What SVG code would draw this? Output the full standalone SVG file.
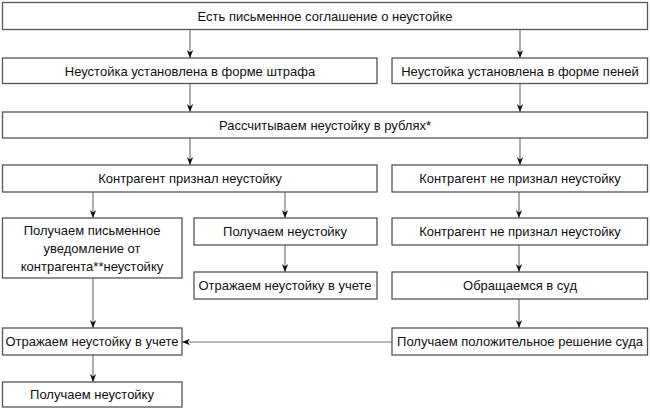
<svg xmlns="http://www.w3.org/2000/svg" width="650" height="411" viewBox="0 0 650 411">
<defs>
<style>
.b{fill:#fff;stroke:#555;stroke-width:1.3}
.t{font-family:"Liberation Sans",Arial,sans-serif;font-size:13px;fill:#111;text-anchor:middle;dominant-baseline:central}
.c{stroke:#777;stroke-width:1.2;fill:none;marker-end:url(#ah)}
</style>
<marker id="ah" viewBox="0 0 10 10" refX="10" refY="5" markerWidth="8" markerHeight="8" markerUnits="userSpaceOnUse" orient="auto">
<path d="M0,1 L10,5 L0,9 L3,5 Z" fill="#111"/>
</marker>
</defs>
<rect width="650" height="411" fill="#fff"/>
<g id="connectors">
<line class="c" x1="190" y1="29" x2="190" y2="58"/>
<line class="c" x1="520" y1="29" x2="520" y2="58"/>
<line class="c" x1="190" y1="83" x2="190" y2="112"/>
<line class="c" x1="520" y1="83" x2="520" y2="112"/>
<line class="c" x1="190" y1="138" x2="190" y2="165"/>
<line class="c" x1="520" y1="138" x2="520" y2="165"/>
<line class="c" x1="93" y1="192" x2="93" y2="218"/>
<line class="c" x1="285" y1="192" x2="285" y2="218"/>
<line class="c" x1="519" y1="192" x2="519" y2="218"/>
<line class="c" x1="285" y1="245" x2="285" y2="272"/>
<line class="c" x1="519" y1="245" x2="519" y2="272"/>
<line class="c" x1="519" y1="299" x2="519" y2="328"/>
<line class="c" x1="392" y1="342" x2="182" y2="342"/>
<line class="c" x1="93" y1="278" x2="93" y2="328"/>
<line class="c" x1="93" y1="355" x2="93" y2="382"/>
</g>
<g id="n1"><rect class="b" x="2.5" y="2.5" width="645" height="27"/><text class="t" x="325" y="16">Есть письменное соглашение о неустойке</text></g>
<g id="n2"><rect class="b" x="2.5" y="58" width="374.5" height="25.5"/><text class="t" x="190" y="71">Неустойка установлена в форме штрафа</text></g>
<g id="n3"><rect class="b" x="392" y="58" width="255.5" height="25.5"/><text class="t" x="520" y="71">Неустойка установлена в форме пеней</text></g>
<g id="n4"><rect class="b" x="2.5" y="112" width="645" height="26"/><text class="t" x="325" y="125">Рассчитываем неустойку в рублях*</text></g>
<g id="n5"><rect class="b" x="2.5" y="165" width="374.5" height="27"/><text class="t" x="190" y="178.5">Контрагент признал неустойку</text></g>
<g id="n6"><rect class="b" x="392" y="165" width="255.5" height="27"/><text class="t" x="520" y="178.5">Контрагент не признал неустойку</text></g>
<g id="n7"><rect class="b" x="2.5" y="218" width="179.5" height="60"/><text class="t" x="92" y="230">Получаем письменное</text><text class="t" x="92" y="248">уведомление от</text><text class="t" x="92" y="266">контрагента**неустойку</text></g>
<g id="n8"><rect class="b" x="194" y="218" width="183" height="27"/><text class="t" x="285" y="231.5">Получаем неустойку</text></g>
<g id="n9"><rect class="b" x="392" y="218" width="255.5" height="27"/><text class="t" x="520" y="231.5">Контрагент не признал неустойку</text></g>
<g id="n10"><rect class="b" x="194" y="272" width="183" height="27"/><text class="t" x="285" y="285.5">Отражаем неустойку в учете</text></g>
<g id="n11"><rect class="b" x="392" y="272" width="255.5" height="27"/><text class="t" x="520" y="285.5">Обращаемся в суд</text></g>
<g id="n12"><rect class="b" x="392" y="328" width="255.5" height="27"/><text class="t" x="520" y="341.5">Получаем положительное решение суда</text></g>
<g id="n13"><rect class="b" x="2.5" y="328" width="179.5" height="27"/><text class="t" x="92" y="341.5">Отражаем неустойку в учете</text></g>
<g id="n14"><rect class="b" x="2.5" y="382" width="179.5" height="25"/><text class="t" x="92" y="394.5">Получаем неустойку</text></g>
</svg>
